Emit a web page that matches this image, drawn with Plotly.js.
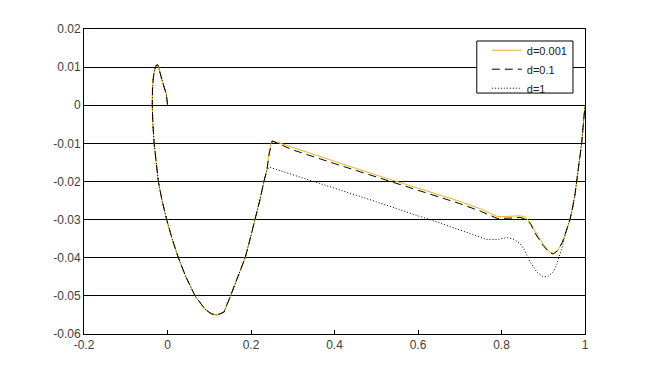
<!DOCTYPE html>
<html>
<head>
<meta charset="utf-8">
<script src="https://cdn.plot.ly/plotly-3.0.1.min.js"></script>
<style>html,body{margin:0;padding:0;background:#fff;}#chart{width:646px;height:375px;}</style>
</head>
<body>
<div id="chart"></div>
<script>
// Shared leading-edge part (all three series coincide here)
const commonX = [0.0, -0.003, -0.010, -0.017, -0.022, -0.0245, -0.027, -0.031, -0.034, -0.036, -0.0365, -0.035, -0.032, -0.027, -0.022, -0.013, -0.002, 0.011, 0.026, 0.044, 0.066, 0.09, 0.105, 0.119, 0.135, 0.151, 0.168, 0.186, 0.198, 0.21, 0.221, 0.231, 0.238];
const commonY = [0.0002, 0.003, 0.0054, 0.0085, 0.0102, 0.0107, 0.0104, 0.0092, 0.0072, 0.004, 0.0, -0.005, -0.01, -0.015, -0.02, -0.025, -0.03, -0.035, -0.04, -0.045, -0.05, -0.0535, -0.0547, -0.055, -0.0543, -0.05, -0.045, -0.04, -0.035, -0.03, -0.025, -0.02, -0.017];

// Shared trailing-edge part
const tailX = [0.955, 0.964, 0.970, 0.976, 0.980, 0.986, 0.992, 0.996, 1.0];
const tailY = [-0.033, -0.030, -0.027, -0.0235, -0.020, -0.015, -0.010, -0.005, 0.0];

// d=0.001
const midX1 = [0.243, 0.2495, 0.26, 0.30, 0.40, 0.50, 0.549, 0.60, 0.653, 0.70, 0.75, 0.788, 0.80, 0.82, 0.844, 0.856, 0.868, 0.88, 0.90, 0.915, 0.924, 0.935, 0.946];
const midY1 = [-0.0125, -0.0093, -0.0096, -0.0111, -0.0147, -0.0183, -0.020, -0.0218, -0.0235, -0.0252, -0.0272, -0.0291, -0.0292, -0.0291, -0.029, -0.0293, -0.0306, -0.033, -0.0365, -0.0385, -0.0389, -0.038, -0.0358];

// d=0.1
const midX2 = [0.244, 0.251, 0.26, 0.30, 0.40, 0.50, 0.60, 0.70, 0.75, 0.79, 0.82, 0.844, 0.86, 0.87, 0.88, 0.90, 0.915, 0.924, 0.935, 0.946];
const midY2 = [-0.0125, -0.0094, -0.0098, -0.0117, -0.0153, -0.0188, -0.0224, -0.0258, -0.0278, -0.0297, -0.0296, -0.0294, -0.030, -0.0312, -0.0335, -0.0368, -0.0387, -0.039, -0.0381, -0.0359];

// d=1
const midX3 = [0.2455, 0.30, 0.40, 0.50, 0.60, 0.629, 0.70, 0.765, 0.79, 0.8125, 0.83, 0.844, 0.855, 0.868, 0.885, 0.900, 0.912, 0.924, 0.932, 0.940, 0.946];
const midY3 = [-0.0163, -0.0182, -0.0218, -0.0253, -0.029, -0.030, -0.0327, -0.0352, -0.0352, -0.0347, -0.0352, -0.0362, -0.038, -0.041, -0.0438, -0.045, -0.0448, -0.0437, -0.0418, -0.0393, -0.037];

const seriesNames = ['d=0.001', 'd=0.1', 'd=1'];
const xTickVals = [-0.2, 0, 0.2, 0.4, 0.6, 0.8, 1];
const xTickText = ['-0.2', '0', '0.2', '0.4', '0.6', '0.8', '1'];
const yTickVals = [-0.06, -0.05, -0.04, -0.03, -0.02, -0.01, 0, 0.01, 0.02];
const yTickText = ['-0.06', '-0.05', '-0.04', '-0.03', '-0.02', '-0.01', '0', '0.01', '0.02'];

const traces = [
  {x: commonX.concat(midX1, tailX), y: commonY.concat(midY1, tailY), name: seriesNames[0],
   mode: 'lines', line: {color: '#EDB120', width: 1}},
  {x: commonX.concat(midX2, tailX), y: commonY.concat(midY2, tailY), name: seriesNames[1],
   mode: 'lines', line: {color: '#000000', width: 1, dash: '8px,5px'}},
  {x: commonX.concat(midX3, tailX), y: commonY.concat(midY3, tailY), name: seriesNames[2],
   mode: 'lines', line: {color: '#000000', width: 1, dash: '1px,2px'}}
];

const font = {family: '"Liberation Sans", Arial, sans-serif', size: 12, color: '#404040'};

const layout = {
  width: 646, height: 375,
  margin: {l: 84, r: 61, t: 29, b: 41, pad: 0},
  paper_bgcolor: '#ffffff', plot_bgcolor: '#ffffff',
  font: font,
  showlegend: true,
  legend: {x: 0.804, y: 0.978, xanchor: 'left', yanchor: 'top',
           bgcolor: 'rgba(0,0,0,0)', borderwidth: 0, itemwidth: 30,
           font: {family: font.family, size: 11, color: '#202020'}, tracegroupgap: 0},
  shapes: [{type: 'rect', xref: 'paper', yref: 'paper', x0: 0.784, x1: 0.976, y0: 0.79, y1: 0.9607,
            line: {color: '#000000', width: 1}, fillcolor: '#ffffff', layer: 'above'}],
  xaxis: {range: [-0.2, 1], tickvals: xTickVals, ticktext: xTickText,
          showgrid: false, zeroline: false, showline: true, linecolor: '#000000', linewidth: 1,
          mirror: true, ticks: 'inside', ticklen: 4, tickcolor: '#000000'},
  yaxis: {range: [-0.06, 0.02], tickvals: yTickVals, ticktext: yTickText,
          showgrid: true, gridcolor: '#000000', gridwidth: 1, zeroline: false,
          showline: true, linecolor: '#000000', linewidth: 1, mirror: true, ticks: ''}
};

Plotly.newPlot('chart', traces, layout, {displayModeBar: false, staticPlot: true});
</script>
</body>
</html>
